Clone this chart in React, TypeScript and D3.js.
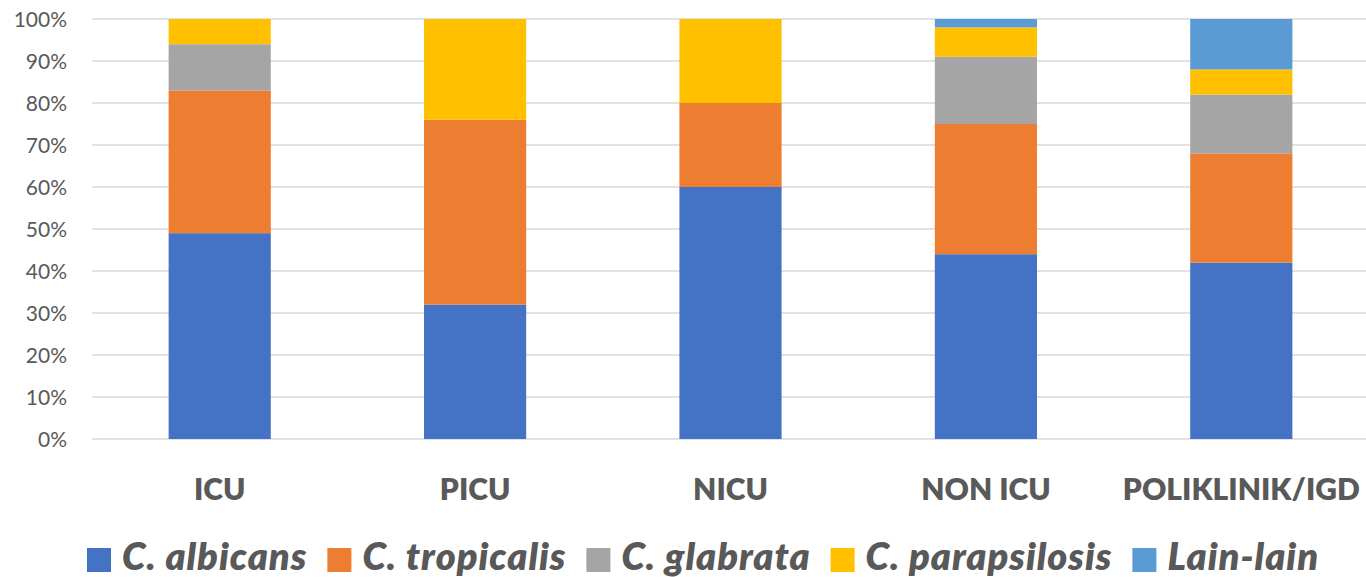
import { useEffect, useRef } from "react";
import * as d3 from "d3";

const CATEGORIES = ["ICU", "PICU", "NICU", "NON ICU", "POLIKLINIK/IGD"];
const SPECIES = ["C. albicans", "C. tropicalis", "C. glabrata", "C. parapsilosis", "Lain-lain"];
const COLORS = ["#4472C4", "#ED7D31", "#A5A5A5", "#FFC000", "#5B9BD5"];
// percent share per category, in SPECIES order
const ALBICANS = [49, 32, 60, 44, 42];
const TROPICALIS = [34, 44, 20, 31, 26];
const GLABRATA = [11, 0, 0, 16, 14];
const PARAPSILOSIS = [6, 24, 20, 7, 6];
const LAIN = [0, 0, 0, 2, 12];
const Y_TICKS = [0, 10, 20, 30, 40, 50, 60, 70, 80, 90, 100];

const FONT = "Lato, 'Open Sans', sans-serif";
const TEXT = "#595959";

export default function App() {
  const svgRef = useRef<SVGSVGElement>(null);

  useEffect(() => {
    document.body.style.margin = "0";
    if (!svgRef.current) return;
    const W = 1366, H = 577;
    const mg = { t: 19, r: -3, b: 138, l: 92 };
    const IW = W - mg.l - mg.r, IH = H - mg.t - mg.b;

    const svg = d3.select(svgRef.current).attr("width", W).attr("height", H);
    svg.selectAll("*").remove();

    const rows = CATEGORIES.map((c, i) => ({
      cat: c,
      vals: [ALBICANS[i], TROPICALIS[i], GLABRATA[i], PARAPSILOSIS[i], LAIN[i]],
    }));

    const x = d3.scaleBand().domain(CATEGORIES).range([0, IW]).paddingInner(0.6).paddingOuter(0.3);
    const y = d3.scaleLinear().domain([0, 100]).range([IH, 0]);
    const root = svg.append("g").attr("transform", `translate(${mg.l},${mg.t})`);

    Y_TICKS.forEach(v => {
      root.append("line").attr("x1", 0).attr("x2", IW).attr("y1", y(v)).attr("y2", y(v))
        .attr("stroke", "#D9D9D9").attr("stroke-width", 1.5);
    });

    root.append("g").attr("transform", "translate(-22,0)")
      .call(d3.axisLeft(y).tickValues(Y_TICKS).tickFormat(v => `${v}%`).tickSize(0))
      .call(g => {
        g.select(".domain").remove();
        g.selectAll("text").attr("fill", TEXT).attr("font-size", 21).attr("font-family", FONT).attr("dy", "0.36em");
      });

    rows.forEach(r => {
      let cum = 0;
      r.vals.forEach((v, k) => {
        if (v > 0) {
          root.append("rect").attr("x", x(r.cat)!).attr("width", x.bandwidth())
            .attr("y", y(cum + v)).attr("height", y(cum) - y(cum + v)).attr("fill", COLORS[k]);
        }
        cum += v;
      });
      root.append("text").attr("x", x(r.cat)! + x.bandwidth() / 2).attr("y", IH + 61)
        .attr("text-anchor", "middle").attr("font-size", 30).attr("font-weight", 800)
        .attr("font-family", FONT).attr("fill", TEXT).text(r.cat);
    });

    // legend
    const leg = svg.append("g");
    let lx = 87;
    SPECIES.forEach((s, k) => {
      leg.append("rect").attr("x", lx).attr("y", 548).attr("width", 24).attr("height", 24).attr("fill", COLORS[k]);
      const t = leg.append("text").attr("x", lx + 35).attr("y", 570).attr("font-size", 38)
        .attr("font-weight", 800).attr("font-style", "italic").attr("font-family", FONT)
        .attr("letter-spacing", 1).attr("fill", TEXT).text(s);
      const w = (t.node() as SVGTextElement).getComputedTextLength();
      lx += 35 + w + 20;
    });
  }, []);

  return <svg ref={svgRef} style={{ display: "block" }} />;
}
